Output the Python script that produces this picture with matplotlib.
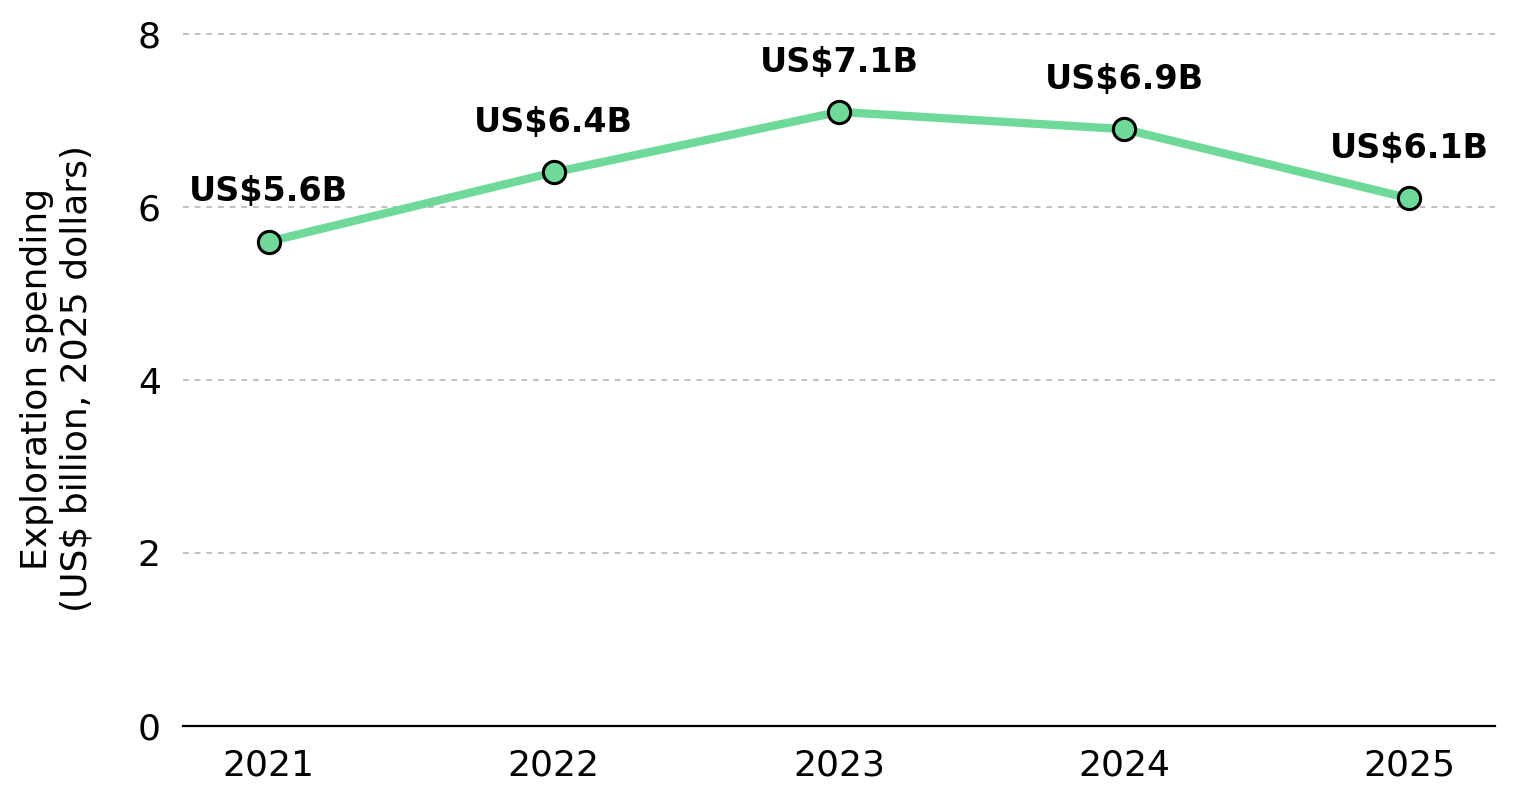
import matplotlib
matplotlib.use("Agg")
import matplotlib.pyplot as plt

years = [2021, 2022, 2023, 2024, 2025]
spending = [5.6, 6.4, 7.1, 6.9, 6.1]
labels = ["US$5.6B", "US$6.4B", "US$7.1B", "US$6.9B", "US$6.1B"]
yticks = [0, 2, 4, 6, 8]

W, H, DPI = 1515, 802, 200
fig = plt.figure(figsize=(W / DPI, H / DPI), dpi=DPI)
y0_px, y8_px = 726, 34
unit = (y0_px - y8_px) / 8
ytop = 8.03
top_px = y0_px - ytop * unit
left_px, right_px = 183, 1495
ax = fig.add_axes([left_px / W, (H - y0_px) / H, (right_px - left_px) / W, (y0_px - top_px) / H])

color = "#6fd99a"
ax.plot(years, spending, color=color, lw=3, zorder=3, clip_on=False,
        marker="o", markersize=8, markerfacecolor=color,
        markeredgecolor="black", markeredgewidth=1.1)
for x, y, t in zip(years, spending, labels):
    ax.annotate(t, (x, y), xytext=(0, 12), textcoords="offset points",
                ha="center", va="bottom", fontsize=12, fontweight="bold")

ax.set_xlim(2020.7, 2025.3)
ax.set_ylim(0, ytop)
ax.set_xticks(years)
ax.set_xticklabels([str(y) for y in years])
ax.set_yticks(yticks)
ax.tick_params(axis="both", length=0, labelsize=13)
ax.tick_params(axis="y", pad=8)
ax.tick_params(axis="x", pad=8)
ax.grid(axis="y", color="#c0c0c0", linestyle=(0, (3, 3)), lw=0.7)
ax.set_axisbelow(True)
for s in ["top", "right", "left"]:
    ax.spines[s].set_visible(False)
ax.spines["bottom"].set_linewidth(0.8)
ax.set_ylabel("Exploration spending\n(US$ billion, 2025 dollars)", fontsize=13, labelpad=16)

fig.savefig("out.png", dpi=DPI)
